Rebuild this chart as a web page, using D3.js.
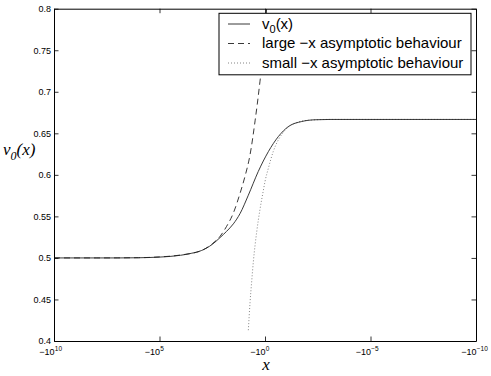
<!doctype html>
<html>
<head>
<meta charset="utf-8">
<title>v0(x)</title>
<style>
  body { margin: 0; background: #fff; }
  text { font-family: "Liberation Sans", Arial, Helvetica, sans-serif; }
  .tick text { font-size: 9px; }
</style>
</head>
<body>
<div id="vis"></div>
<script src="https://cdn.jsdelivr.net/npm/d3@7"></script>
<script>
  // x values are stored as log10(-x); the axis runs from -1e10 to -1e-10
  var solidLogX = [10, 7, 6, 5, 4.5, 4, 3.5, 3, 2.5, 2.13, 1.82, 1.5, 1.18, 0.79, 0.32, -0.16, -0.63, -1.10, -1.74, -2.37, -3.08, -10];
  var solidV    = [0.5, 0.5, 0.5002, 0.501, 0.5018, 0.5032, 0.5055, 0.509, 0.5163, 0.5245, 0.532, 0.541, 0.5535, 0.5755, 0.604, 0.628, 0.646, 0.658, 0.6642, 0.6663, 0.6667, 0.6667];

  var largeLogX = [10, 8, 6, 5, 4, 3, 2.5, 2.13, 1.82, 1.5, 1.18, 0.95, 0.71, 0.47, 0.24, 0.0, -0.1];
  var largeV    = [0.5, 0.5, 0.5003, 0.5012, 0.5035, 0.509, 0.517, 0.526, 0.538, 0.554, 0.578, 0.598, 0.624, 0.665, 0.712, 0.770, 0.81];

  var smallLogX = [0.79, 0.71, 0.63, 0.55, 0.39, 0.24, 0.08, 0.0, -0.16, -0.39, -0.63, -0.79, -1.10, -1.50, -2.0, -3.0, -10];
  var smallV    = [0.413, 0.446, 0.472, 0.496, 0.532, 0.558, 0.581, 0.592, 0.608, 0.628, 0.642, 0.6485, 0.6575, 0.663, 0.6655, 0.6667, 0.6667];

  var xTickExp = [10, 5, 0, -5, -10];
  var yTicks = [0.4, 0.45, 0.5, 0.55, 0.6, 0.65, 0.7, 0.75, 0.8];
  var legendLabels = ['v0(x)', 'large \u2212x asymptotic behaviour', 'small \u2212x asymptotic behaviour'];

  var width = 491, height = 376;
  var pLeft = 54, pRight = 476, pTop = 8.7, pBottom = 341;

  var svg = d3.select('#vis').append('svg').attr('width', width).attr('height', height);

  var x = d3.scaleLinear().domain([10, -10]).range([pLeft, pRight]);
  var y = d3.scaleLinear().domain([0.4, 0.8]).range([pBottom, pTop]);

  svg.append('defs').append('clipPath').attr('id', 'clip')
    .append('rect').attr('x', pLeft).attr('y', pTop).attr('width', pRight - pLeft).attr('height', pBottom - pTop);

  function pts(xs, ys){ return xs.map(function(d, i){ return [d, ys[i]]; }); }
  var line = d3.line().x(function(d){ return x(d[0]); }).y(function(d){ return y(d[1]); }).curve(d3.curveMonotoneX);

  var plot = svg.append('g').attr('clip-path', 'url(#clip)');
  plot.append('path').attr('d', line(pts(smallLogX, smallV)))
    .attr('fill', 'none').attr('stroke', '#777').attr('stroke-width', 0.9).attr('stroke-dasharray', '1,2');
  plot.append('path').attr('d', line(pts(largeLogX, largeV)))
    .attr('fill', 'none').attr('stroke', '#222').attr('stroke-width', 0.9).attr('stroke-dasharray', '6,4');
  plot.append('path').attr('d', line(pts(solidLogX, solidV)))
    .attr('fill', 'none').attr('stroke', '#222').attr('stroke-width', 0.9);

  // axes (ticks inside, mirrored on top and right)
  var fmtY = d3.format('.2~f');
  svg.append('g').attr('transform', 'translate(' + pLeft + ',0)')
    .call(d3.axisLeft(y).tickValues(yTicks).tickSizeInner(-4.5).tickSizeOuter(0).tickPadding(3).tickFormat(fmtY));
  svg.append('g').attr('transform', 'translate(' + pRight + ',0)')
    .call(d3.axisRight(y).tickValues(yTicks).tickSizeInner(-4.5).tickSizeOuter(0).tickFormat(''));
  svg.append('g').attr('transform', 'translate(0,' + pBottom + ')')
    .call(d3.axisBottom(x).tickValues(xTickExp).tickSizeInner(-4.5).tickSizeOuter(0).tickFormat(''));
  svg.append('g').attr('transform', 'translate(0,' + pTop + ')')
    .call(d3.axisTop(x).tickValues(xTickExp).tickSizeInner(-4.5).tickSizeOuter(0).tickFormat(''));
  svg.selectAll('.domain').attr('stroke', '#000').attr('stroke-width', 1);
  svg.selectAll('.tick line').attr('stroke', '#000').attr('stroke-width', 0.8);
  svg.selectAll('.tick text').attr('fill', '#000');

  // x tick labels: -10 with superscript exponent
  var xl = svg.append('g');
  xTickExp.forEach(function(e){
    xl.append('text').attr('x', x(e) + 0.5).attr('y', 355).attr('text-anchor', 'end')
      .style('font-size', '9px').text('\u221210');
    xl.append('text').attr('x', x(e) + 0.8).attr('y', 350.5)
      .style('font-size', '6.5px').text(e < 0 ? '\u2212' + (-e) : String(e));
  });

  // axis labels
  svg.append('text').attr('x', 266).attr('y', 370).attr('text-anchor', 'middle')
    .style('font-family', '"Liberation Serif", "Times New Roman", serif').style('font-style', 'italic')
    .style('font-size', '17px').text('x');
  var yl = svg.append('text').attr('x', 3).attr('y', 155)
    .style('font-family', '"Liberation Serif", "Times New Roman", serif').style('font-style', 'italic')
    .style('font-size', '17px');
  yl.append('tspan').text('v');
  yl.append('tspan').attr('dy', 5).style('font-size', '12px').text('0');
  yl.append('tspan').attr('dy', -5).text('(x)');

  // legend
  var lg = svg.append('g');
  lg.append('rect').attr('x', 219).attr('y', 13.3).attr('width', 252).attr('height', 61.5)
    .attr('fill', '#fff').attr('stroke', '#000').attr('stroke-width', 1);
  var styles = [
    {stroke: '#222', dash: null},
    {stroke: '#222', dash: '6,4'},
    {stroke: '#777', dash: '1,2'}
  ];
  legendLabels.forEach(function(lab, i){
    var cy = 24 + i * 19.5;
    lg.append('line').attr('x1', 228).attr('x2', 250).attr('y1', cy).attr('y2', cy)
      .attr('stroke', styles[i].stroke).attr('stroke-width', 0.9)
      .attr('stroke-dasharray', styles[i].dash);
    var t = lg.append('text').attr('x', 262).attr('y', cy + 4.8).style('font-size', '15px').attr('fill', '#000');
    if (i === 0) {
      t.append('tspan').text('v');
      t.append('tspan').attr('dy', 4).style('font-size', '11px').text('0');
      t.append('tspan').attr('dy', -4).text('(x)');
    } else {
      t.text(lab);
    }
  });
</script>
</body>
</html>
